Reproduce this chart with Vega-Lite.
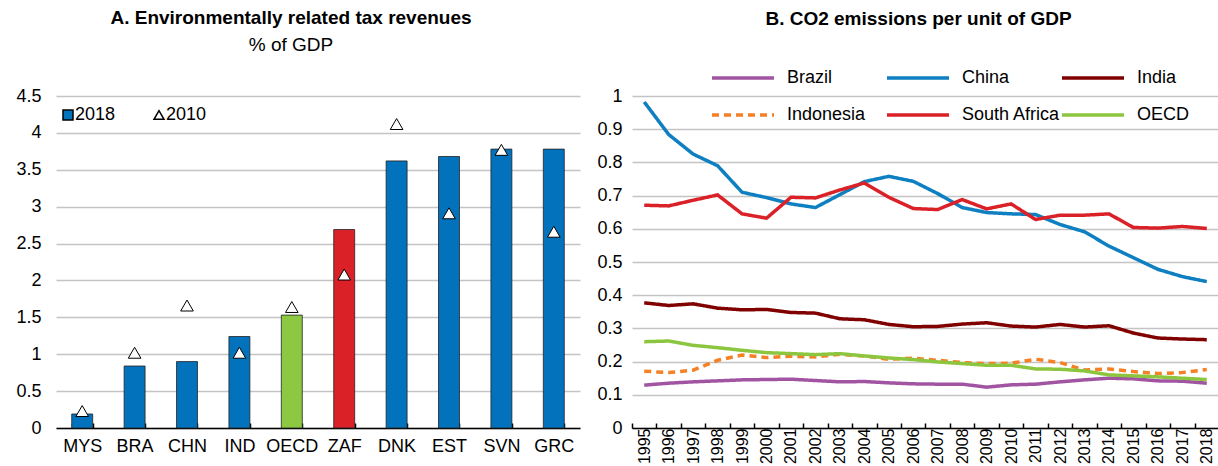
{
  "$schema": "https://vega.github.io/schema/vega-lite/v6.json",
  "padding": {"left": 15, "top": 9, "right": 0, "bottom": 0},
  "background": "white",
  "spacing": 52,
  "bounds": "flush",
  "config": {
    "font": "Liberation Sans, Arial, sans-serif",
    "view": {"stroke": null},
    "axis": {"labelFontSize": 18, "labelColor": "#000", "gridColor": "#c4c4c4", "gridWidth": 1.5, "title": null},
    "axisX": {"domainColor": "#000", "domainWidth": 1.5, "tickColor": "#000", "tickWidth": 1.5, "tickSize": -5, "grid": false, "labelAngle": 0},
    "axisY": {"domain": false, "ticks": false, "grid": true, "labelPadding": 15},
    "legend": {"labelFontSize": 18, "labelColor": "#000"},
    "title": {"fontSize": 19, "fontWeight": "bold", "color": "#000", "subtitleFontSize": 19, "subtitleColor": "#000", "subtitleFontWeight": "normal"}
  },
  "hconcat": [
    {
      "width": 524,
      "height": 332,
      "title": {"text": "A. Environmentally related tax revenues", "subtitle": "% of GDP", "frame": "bounds", "offset": 32, "subtitlePadding": 8, "dx": -7},
      "data": {"values": [
        {"country": "MYS", "v2018": 0.19, "v2010": 0.23, "clr": "#0372BC"},
        {"country": "BRA", "v2018": 0.84, "v2010": 1.02, "clr": "#0372BC"},
        {"country": "CHN", "v2018": 0.90, "v2010": 1.66, "clr": "#0372BC"},
        {"country": "IND", "v2018": 1.24, "v2010": 1.02, "clr": "#0372BC"},
        {"country": "OECD", "v2018": 1.53, "v2010": 1.64, "clr": "#8CC841"},
        {"country": "ZAF", "v2018": 2.69, "v2010": 2.08, "clr": "#DA2128"},
        {"country": "DNK", "v2018": 3.62, "v2010": 4.12, "clr": "#0372BC"},
        {"country": "EST", "v2018": 3.68, "v2010": 2.91, "clr": "#0372BC"},
        {"country": "SVN", "v2018": 3.78, "v2010": 3.77, "clr": "#0372BC"},
        {"country": "GRC", "v2018": 3.78, "v2010": 2.66, "clr": "#0372BC"}
      ]},
      "encoding": {
        "x": {"field": "country", "type": "nominal", "sort": null, "scale": {"paddingInner": 0.6, "paddingOuter": 0.3}, "axis": {"tickBand": "extent", "labelPadding": 14}}
      },
      "layer": [
        {
          "mark": {"type": "bar", "stroke": "#222", "strokeWidth": 0.8},
          "encoding": {
            "y": {"field": "v2018", "type": "quantitative", "scale": {"domain": [0, 4.5]}, "axis": {"values": [0, 0.5, 1, 1.5, 2, 2.5, 3, 3.5, 4, 4.5], "format": "~g", "grid": true, "labelOverlap": false}},
            "color": {"field": "clr", "type": "nominal", "scale": null}
          }
        },
        {
          "mark": {"type": "point", "filled": true, "stroke": "#000", "strokeWidth": 1, "size": 160, "opacity": 1},
          "encoding": {
            "y": {"field": "v2010", "type": "quantitative", "scale": {"domain": [0, 4.5]}, "axis": {"values": [0, 0.5, 1, 1.5, 2, 2.5, 3, 3.5, 4, 4.5], "format": "~g", "grid": true, "labelOverlap": false}},
            "shape": {"datum": "2010", "scale": {"domain": ["2018", "2010"], "range": ["square", "triangle-up"]},
              "legend": {"orient": "none", "legendX": 3, "legendY": 10, "direction": "horizontal", "columns": 2, "title": null, "columnPadding": 34, "symbolSize": 100, "labelOffset": -2, "encode": {"symbols": {"update": {"stroke": {"value": "#222"}, "strokeWidth": {"value": 1}}}}}},
            "fill": {"datum": "2010", "scale": {"domain": ["2018", "2010"], "range": ["#0372BC", "#ffffff"]},
              "legend": {"orient": "none", "legendX": 3, "legendY": 10, "direction": "horizontal", "columns": 2, "title": null, "columnPadding": 34, "symbolSize": 100, "labelOffset": -2, "encode": {"symbols": {"update": {"stroke": {"value": "#222"}, "strokeWidth": {"value": 1}}}}}}
          }
        }
      ]
    },
    {
      "width": 587,
      "height": 332,
      "title": {"text": "B. CO2 emissions per unit of GDP", "offset": 58, "dx": -7},
      "data": {"values": [
        {"year": "1995", "Brazil": 0.129, "China": 0.982, "India": 0.377, "Indonesia": 0.171, "South Africa": 0.671, "OECD": 0.260},
        {"year": "1996", "Brazil": 0.135, "China": 0.884, "India": 0.369, "Indonesia": 0.167, "South Africa": 0.669, "OECD": 0.262},
        {"year": "1997", "Brazil": 0.139, "China": 0.825, "India": 0.374, "Indonesia": 0.174, "South Africa": 0.686, "OECD": 0.249},
        {"year": "1998", "Brazil": 0.142, "China": 0.790, "India": 0.361, "Indonesia": 0.204, "South Africa": 0.702, "OECD": 0.242},
        {"year": "1999", "Brazil": 0.145, "China": 0.710, "India": 0.356, "Indonesia": 0.220, "South Africa": 0.645, "OECD": 0.234},
        {"year": "2000", "Brazil": 0.146, "China": 0.694, "India": 0.357, "Indonesia": 0.212, "South Africa": 0.632, "OECD": 0.227},
        {"year": "2001", "Brazil": 0.147, "China": 0.675, "India": 0.348, "Indonesia": 0.216, "South Africa": 0.695, "OECD": 0.224},
        {"year": "2002", "Brazil": 0.143, "China": 0.664, "India": 0.346, "Indonesia": 0.214, "South Africa": 0.693, "OECD": 0.221},
        {"year": "2003", "Brazil": 0.139, "China": 0.703, "India": 0.329, "Indonesia": 0.222, "South Africa": 0.717, "OECD": 0.224},
        {"year": "2004", "Brazil": 0.140, "China": 0.742, "India": 0.326, "Indonesia": 0.217, "South Africa": 0.738, "OECD": 0.217},
        {"year": "2005", "Brazil": 0.136, "China": 0.758, "India": 0.312, "Indonesia": 0.207, "South Africa": 0.695, "OECD": 0.211},
        {"year": "2006", "Brazil": 0.133, "China": 0.743, "India": 0.305, "Indonesia": 0.210, "South Africa": 0.661, "OECD": 0.206},
        {"year": "2007", "Brazil": 0.132, "China": 0.706, "India": 0.306, "Indonesia": 0.204, "South Africa": 0.658, "OECD": 0.199},
        {"year": "2008", "Brazil": 0.132, "China": 0.664, "India": 0.313, "Indonesia": 0.197, "South Africa": 0.688, "OECD": 0.194},
        {"year": "2009", "Brazil": 0.123, "China": 0.649, "India": 0.317, "Indonesia": 0.194, "South Africa": 0.660, "OECD": 0.189},
        {"year": "2010", "Brazil": 0.130, "China": 0.645, "India": 0.307, "Indonesia": 0.195, "South Africa": 0.675, "OECD": 0.189},
        {"year": "2011", "Brazil": 0.132, "China": 0.643, "India": 0.304, "Indonesia": 0.207, "South Africa": 0.628, "OECD": 0.178},
        {"year": "2012", "Brazil": 0.139, "China": 0.613, "India": 0.312, "Indonesia": 0.197, "South Africa": 0.641, "OECD": 0.177},
        {"year": "2013", "Brazil": 0.145, "China": 0.591, "India": 0.304, "Indonesia": 0.175, "South Africa": 0.641, "OECD": 0.172},
        {"year": "2014", "Brazil": 0.150, "China": 0.548, "India": 0.308, "Indonesia": 0.178, "South Africa": 0.645, "OECD": 0.160},
        {"year": "2015", "Brazil": 0.148, "China": 0.513, "India": 0.286, "Indonesia": 0.170, "South Africa": 0.604, "OECD": 0.157},
        {"year": "2016", "Brazil": 0.142, "China": 0.478, "India": 0.271, "Indonesia": 0.164, "South Africa": 0.602, "OECD": 0.154},
        {"year": "2017", "Brazil": 0.141, "China": 0.456, "India": 0.268, "Indonesia": 0.167, "South Africa": 0.607, "OECD": 0.150},
        {"year": "2018", "Brazil": 0.135, "China": 0.441, "India": 0.266, "Indonesia": 0.176, "South Africa": 0.601, "OECD": 0.146}
      ]},
      "transform": [{"fold": ["Brazil", "China", "India", "Indonesia", "South Africa", "OECD"], "as": ["country", "v"]}],
      "mark": {"type": "line"},
      "encoding": {
        "x": {"field": "year", "type": "ordinal", "scale": {"type": "band", "paddingInner": 0, "paddingOuter": 0}, "axis": {"labelAngle": -90, "tickBand": "extent", "labelPadding": 5, "labelFontSize": 16}},
        "y": {"field": "v", "type": "quantitative", "scale": {"domain": [0, 1]}, "axis": {"values": [0, 0.1, 0.2, 0.3, 0.4, 0.5, 0.6, 0.7, 0.8, 0.9, 1], "format": "~g", "labelPadding": 10, "grid": true}},
        "color": {"field": "country", "type": "nominal", "scale": {"domain": ["Brazil", "China", "India", "Indonesia", "South Africa", "OECD"], "range": ["#A154A1", "#0E7FC0", "#800000", "#F58025", "#DA2128", "#8CC63F"]},
          "legend": {"orient": "none", "legendX": 678, "legendY": -27, "columns": 3, "direction": "horizontal", "title": null, "symbolType": "M-6.2,0H6.2", "symbolSize": 100, "labelOffset": 35, "columnPadding": -6, "rowPadding": 19, "gridAlign": "all"}},
        "strokeDash": {"field": "country", "type": "nominal", "scale": {"domain": ["Brazil", "China", "India", "Indonesia", "South Africa", "OECD"], "range": [[1, 0], [1, 0], [1, 0], [7, 5], [1, 0], [1, 0]]},
          "legend": {"orient": "none", "legendX": 678, "legendY": -27, "columns": 3, "direction": "horizontal", "title": null, "symbolType": "M-6.2,0H6.2", "symbolSize": 100, "labelOffset": 35, "columnPadding": -6, "rowPadding": 19, "gridAlign": "all"}},
        "strokeWidth": {"field": "country", "type": "nominal", "scale": {"domain": ["Brazil", "China", "India", "Indonesia", "South Africa", "OECD"], "range": [3.5, 3.5, 3.5, 3.5, 4.5, 3.5]},
          "legend": {"orient": "none", "legendX": 678, "legendY": -27, "columns": 3, "direction": "horizontal", "title": null, "symbolType": "M-6.2,0H6.2", "symbolSize": 100, "labelOffset": 35, "columnPadding": -6, "rowPadding": 19, "gridAlign": "all"}}
      }
    }
  ]
}
